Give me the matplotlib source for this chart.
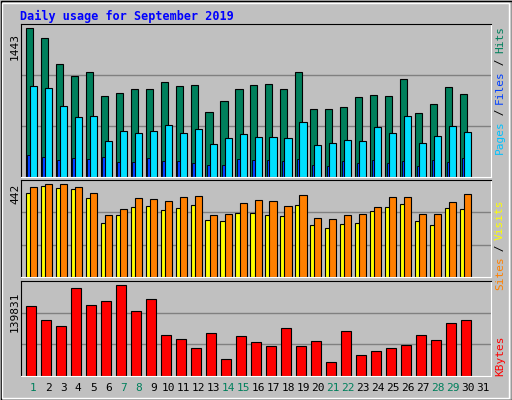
import matplotlib
matplotlib.use("Agg")
import matplotlib.pyplot as plt
from matplotlib.patches import Rectangle

days = list(range(1, 32))
hits = [1443,1345,1090,982,1021,785,815,854,854,923,883,893,628,736,854,893,903,854,1021,658,658,677,775,795,785,952,618,707,874,805]
files = [883,864,687,579,589,353,442,422,442,501,422,461,324,373,412,383,383,373,530,314,334,363,353,481,422,589,334,393,491,432]
pages = [216,196,167,187,177,196,147,147,187,157,157,137,118,118,177,167,167,157,177,118,108,157,137,167,137,157,108,167,147,187]
visits = [427,442,442,427,399,293,322,375,370,360,379,384,293,298,351,365,360,336,389,279,274,293,298,331,379,379,298,298,355,394]
sites = [399,432,423,418,375,255,293,331,336,317,327,341,269,264,303,303,293,288,341,245,235,250,255,312,331,346,264,245,327,322]
kbytes = [107562,86050,76830,135221,109099,115245,139831,99879,118318,63001,56854,43025,66074,26122,61464,52244,46098,73757,46098,53781,21512,69147,32269,38415,43025,47635,63001,55318,81440,86050]
weekend = [1,7,8,14,15,21,22,28,29]
title = "Daily usage for September 2019"

W, H = 512, 400
fig = plt.figure(figsize=(W/100, H/100), dpi=100)
fig.patch.set_facecolor("#c0c0c0")
mono = "DejaVu Sans Mono"

# frame
fig.add_artist(Rectangle((0.5/W, 0.5/H), (W-1)/W, (H-1)/H, transform=fig.transFigure, fill=False, ec="black", lw=1))
fig.add_artist(Rectangle((2/W, 2/H), (W-5)/W, (H-5)/H, transform=fig.transFigure, fill=False, ec="white", lw=1))
fig.text(20/W, 1-16/H, title, color="#0000ff", fontsize=8.5, fontweight="bold", family=mono, va="center")

def ax_at(x0, y0, x1, y1):
    a = fig.add_axes([x0/W, 1-y1/H, (x1-x0)/W, (y1-y0)/H])
    a.set_facecolor("#c0c0c0")
    a.set_xlim(0.39, 31.75)
    a.set_xticks([]); a.set_yticks([])
    for s in a.spines.values():
        s.set_color("black")
    a.spines["right"].set_color("white"); a.spines["bottom"].set_color("white")
    return a

x = days[:30]
# top
a1 = ax_at(21, 24, 491, 177)
top1 = 1443 * 151 / 147
a1.set_ylim(0, top1)
for g in (top1/3, 2*top1/3):
    a1.axhline(g, color="#808080", lw=1, zorder=0)
a1.bar([d-0.3 for d in x], hits, width=0.47, align="edge", color="#00805c", ec="black", lw=0.8)
a1.bar([d-0.03 for d in x], files, width=0.47, align="edge", color="#00e0ff", ec="black", lw=0.8)
a1.bar([d-0.2 for d in x], pages, width=0.17, align="edge", color="#0040ff", ec="black", lw=0.6)
fig.text(15/W, 1-46/H, "1443", rotation=90, fontsize=8, family=mono, ha="center", va="center")

a2 = ax_at(21, 180, 491, 277)
top2 = 442 * 96 / 92
a2.set_ylim(0, top2)
for g in (top2/3, 2*top2/3):
    a2.axhline(g, color="#808080", lw=1, zorder=0)
a2.bar([d-0.3 for d in x], sites, width=0.47, align="edge", color="#ffff00", ec="black", lw=0.8)
a2.bar([d-0.03 for d in x], visits, width=0.47, align="edge", color="#ff8000", ec="black", lw=0.8)
fig.text(15/W, 1-194/H, "442", rotation=90, fontsize=8, family=mono, ha="center", va="center")

a3 = ax_at(21, 281, 491, 376)
top3 = 139831 * 95 / 91
a3.set_ylim(0, top3)
for g in (top3/3, 2*top3/3):
    a3.axhline(g, color="#808080", lw=1, zorder=0)
a3.bar([d-0.27 for d in x], kbytes, width=0.66, align="edge", color="#ff0000", ec="black", lw=0.8)
fig.text(15/W, 1-312/H, "139831", rotation=90, fontsize=8, family=mono, ha="center", va="center")

for d in days:
    fig.text((25.3 + (d-1)*15 + 8)/W, 1-388/H, str(d), fontsize=8, family=mono,
             color="#00805c" if d in weekend else "black", ha="center", va="center")

def rlabel(yc, parts):
    # parts listed bottom to top
    total = sum(len(t) for t, _ in parts)
    ch = 6.3
    y = yc + total*ch/2
    for t, c in parts:
        n = len(t)
        fig.text(500/W, 1-(y - n*ch/2)/H, t, rotation=90, color=c, fontsize=8, family=mono, ha="center", va="center")
        y -= n*ch

rlabel(90, [("Pages", "#00c0ff"), (" / ", "black"), ("Files", "#0040ff"), (" / ", "black"), ("Hits", "#00805c")])
rlabel(245, [("Sites", "#ff8000"), (" / ", "black"), ("Visits", "#ffff00")])
rlabel(356, [("KBytes", "#ff0000")])

fig.savefig("out.png", dpi=100, facecolor=fig.get_facecolor())
